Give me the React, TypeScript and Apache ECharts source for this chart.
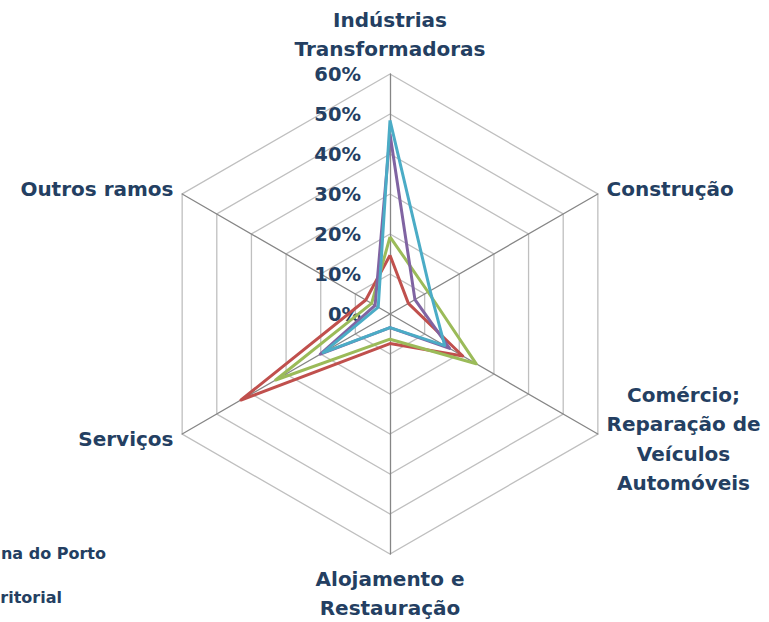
import React, { useEffect, useRef } from "react";
import * as echarts from "echarts";

// Indicators in ECharts order (counter-clockwise starting at the top)
const indicatorNames = [
  "Indústrias\nTransformadoras",
  "Outros ramos",
  "Serviços",
  "Alojamento e\nRestauração",
  "Comércio;\nReparação de\nVeículos\nAutomóveis",
  "Construção",
];
const axisMax = 0.6;
const tickStep = 0.1;

const seriesNames = ["Série A", "Série B", "Série C", "Série D"];
const seriesColors = ["#C0504D", "#9BBB59", "#8064A2", "#4BACC6"];
const valuesRed = [0.147, 0.07, 0.43, 0.074, 0.21, 0.053];
const valuesGreen = [0.193, 0.053, 0.33, 0.063, 0.249, 0.11];
const valuesPurple = [0.45, 0.043, 0.201, 0.034, 0.172, 0.072];
const valuesCyan = [0.484, 0.034, 0.193, 0.034, 0.158, 0.116];

// Legend entries as they are visible (cut by the picture's left edge)
const legendTexts = ["na do Porto", "ritorial"];

const TEXT = "#243F62";
const FONT = "'DejaVu Sans', Verdana, sans-serif";

export default function App() {
  const ref = useRef<HTMLDivElement>(null);
  useEffect(() => {
    if (!ref.current) return;
    const chart = echarts.init(ref.current, undefined, { renderer: "svg" });
    const cx = 390;
    const cy = 314;
    const r = 240;
    const allValues = [valuesRed, valuesGreen, valuesPurple, valuesCyan];
    chart.setOption({
      animation: false,
      backgroundColor: "#ffffff",
      radar: {
        center: [cx, cy],
        radius: r,
        startAngle: 90,
        splitNumber: 6,
        shape: "polygon",
        nameGap: 10,
        indicator: indicatorNames.map((n) => ({ name: n, min: 0, max: axisMax })),
        axisName: {
          color: TEXT,
          fontSize: 20,
          fontWeight: "bold",
          fontFamily: FONT,
          lineHeight: 29.5,
          formatter: (name: string) =>
            name
              .split("\n")
              .map((l) => "{c|" + l + "}")
              .join("\n"),
          rich: {
            c: {
              align: "center",
              color: TEXT,
              fontSize: 20,
              fontWeight: "bold",
              fontFamily: FONT,
              lineHeight: 29.5,
            },
          },
        },
        splitLine: { lineStyle: { color: "#BFBFBF", width: 1.3 } },
        splitArea: { show: false },
        axisLine: { lineStyle: { color: "#868686", width: 1.3 } },
        axisTick: { show: false },
        axisLabel: { show: false },
      },
      grid: { left: cx, top: cy - r, width: 10, height: r, containLabel: false },
      xAxis: { type: "value", show: false },
      yAxis: {
        type: "value",
        min: 0,
        max: axisMax,
        interval: tickStep,
        axisLine: { show: false },
        axisTick: { show: false },
        splitLine: { show: false },
        axisLabel: {
          margin: 29,
          color: TEXT,
          fontSize: 19.5,
          fontWeight: "bold",
          fontFamily: FONT,
          formatter: (v: number) => Math.round(v * 100) + "%",
        },
      },
      graphic: legendTexts.map((n, i) => ({
        type: "text",
        x: i === 0 ? 106 : 62,
        y: 553 + i * 44,
        style: {
          text: n,
          align: "right",
          verticalAlign: "middle",
          fill: TEXT,
          font: "bold 16px " + FONT,
        },
      })),
      series: [
        {
          type: "radar",
          symbol: "none",
          data: allValues.map((vals, i) => ({
            name: seriesNames[i],
            value: vals,
            lineStyle: { color: seriesColors[i], width: 3 },
            itemStyle: { color: seriesColors[i] },
          })),
        },
      ],
    });
    return () => chart.dispose();
  }, []);
  return (
    <div
      ref={ref}
      style={{ position: "fixed", left: 0, top: 0, width: 769, height: 622 }}
    />
  );
}
